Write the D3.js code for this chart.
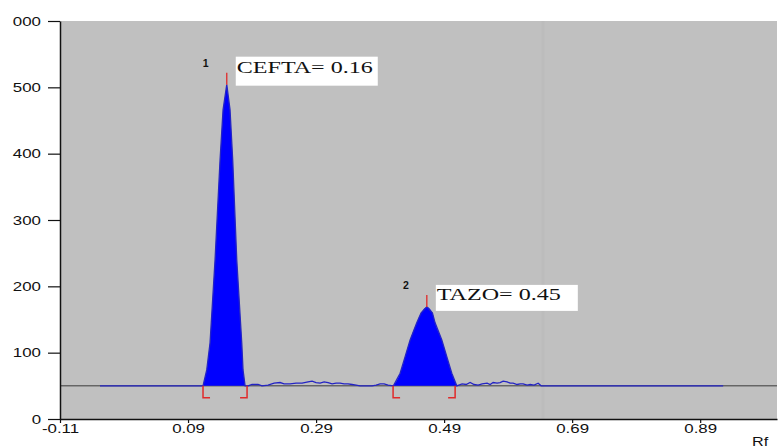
<!DOCTYPE html>
<html>
<head>
<meta charset="utf-8">
<script src="https://cdn.jsdelivr.net/npm/d3@7"></script>
<style>
  body { margin: 0; background: #fff; }
  svg { display: block; }
</style>
</head>
<body>
<svg id="chart"></svg>
<script>
// Densitogram data (Rf vs. AU)
const xTicks = [-0.11, 0.09, 0.29, 0.49, 0.69, 0.89];
const yTicks = [0, 100, 200, 300, 400, 500, 600];
const yTickLabels = ["0", "100", "200", "300", "400", "500", "000"];

const baselineAu = 50;
const traceStartRf = -0.0475;
const traceEndRf = 0.9259;

const peak1Rf = [0.1134, 0.1192, 0.1244, 0.1322, 0.1400, 0.1447, 0.1505, 0.1556, 0.1598, 0.1661, 0.1739, 0.1759, 0.1791];
const peak1Au = [50, 74, 115, 240, 390, 466, 504, 466, 390, 240, 115, 74, 50];

const peak2Rf = [0.4108, 0.4213, 0.4291, 0.4369, 0.4473, 0.4541, 0.4630, 0.4717, 0.4759, 0.4864, 0.4942, 0.5020, 0.5098];
const peak2Au = [50, 69, 94, 119, 145, 160, 169, 160, 145, 119, 94, 69, 50];

const noise1Rf = [0.1838, 0.19, 0.1994, 0.2056, 0.215, 0.2244, 0.2338, 0.24, 0.2494, 0.2588, 0.2681, 0.2775, 0.2838, 0.29, 0.2963, 0.3025, 0.3088, 0.315, 0.3213, 0.3275, 0.3338, 0.34, 0.3463, 0.3525, 0.3588, 0.3681, 0.3775, 0.3838, 0.39, 0.3963, 0.4025];
const noise1Au = [50, 52, 52, 50, 51, 54, 55, 53, 53, 54, 54, 56, 57, 55, 54, 56, 55, 53, 54, 54, 53, 53, 52, 51, 50, 50, 50, 51, 53, 53, 51];

const noise2Rf = [0.5181, 0.5244, 0.5306, 0.5369, 0.5431, 0.5494, 0.5572, 0.5619, 0.5666, 0.5728, 0.5775, 0.5822, 0.5884, 0.5931, 0.5978, 0.6041, 0.6088, 0.6134, 0.6197, 0.6244, 0.6306, 0.6369, 0.6416];
const noise2Au = [53, 52, 55, 52, 51, 53, 54, 52, 55, 54, 55, 57, 56, 54, 54, 52, 53, 53, 51, 52, 51, 54, 50];

const peakNames = ["CEFTA= 0.16", "TAZO= 0.45"];
const peakNumbers = ["1", "2"];
const peakApexRf = [0.1505, 0.4630];
const peakApexAu = [504, 169];
const peakStartRf = [0.1134, 0.4103];
const peakEndRf = [0.1822, 0.5072];

const width = 779, height = 448;
const margin = { top: 21, right: 2, bottom: 29, left: 60 };

const svg = d3.select("#chart").attr("width", width).attr("height", height);

const x = d3.scaleLinear().domain([-0.11, 1.01]).range([margin.left, width - margin.right]);
const y = d3.scaleLinear().domain([0, 600]).range([height - margin.bottom, margin.top]);

const zip = (a, b) => a.map((v, i) => [v, b[i]]);
const peak1 = zip(peak1Rf, peak1Au);
const peak2 = zip(peak2Rf, peak2Au);
const trace = [[traceStartRf, baselineAu]]
    .concat(peak1, zip(noise1Rf, noise1Au), peak2, zip(noise2Rf, noise2Au))
    .concat([[traceEndRf, baselineAu]]);

// Plot background
svg.append("rect")
    .attr("x", x(-0.11)).attr("y", y(600))
    .attr("width", x(1.01) - x(-0.11)).attr("height", y(0) - y(600))
    .attr("fill", "#c0c0c0");

// faint scan seam
svg.append("line")
    .attr("x1", x(0.6445)).attr("x2", x(0.6445))
    .attr("y1", y(600)).attr("y2", y(0))
    .attr("stroke", "#bcbcbc").attr("stroke-width", 3);

// Baseline
svg.append("line")
    .attr("x1", x(-0.11)).attr("x2", x(1.01))
    .attr("y1", y(baselineAu)).attr("y2", y(baselineAu))
    .attr("stroke", "#3a3a3a").attr("stroke-width", 1);

// Filled peaks
const area = d3.area()
    .x(d => x(d[0]))
    .y0(y(baselineAu))
    .y1(d => y(d[1]));

svg.selectAll(".peak")
    .data([peak1, peak2])
    .enter()
    .append("path")
    .attr("class", "peak")
    .attr("d", (d, i) => area.curve(i === 0 ? d3.curveLinear : d3.curveMonotoneX)(d))
    .attr("fill", "#0000ff");

// Trace line
const line = d3.line()
    .x(d => x(d[0]))
    .y(d => y(d[1]))
    .curve(d3.curveLinear);

svg.append("path")
    .datum(trace)
    .attr("d", line)
    .attr("fill", "none")
    .attr("stroke", "#2424c4")
    .attr("stroke-width", 1.3);

// Red apex ticks and integration brackets
const red = "#e02a2a";
peakApexRf.forEach((rf, i) => {
    svg.append("line")
        .attr("x1", x(rf)).attr("x2", x(rf))
        .attr("y1", y(peakApexAu[i])).attr("y2", y(peakApexAu[i]) - 12)
        .attr("stroke", red).attr("stroke-width", 1.3);

    const by = y(baselineAu);
    const xs = x(peakStartRf[i]), xe = x(peakEndRf[i]);
    svg.append("path")
        .attr("d", `M${xs},${by}V${by + 12}H${xs + 7}`)
        .attr("fill", "none").attr("stroke", red).attr("stroke-width", 1.5);
    svg.append("path")
        .attr("d", `M${xe},${by}V${by + 12}H${xe - 7}`)
        .attr("fill", "none").attr("stroke", red).attr("stroke-width", 1.5);
});

// Peak labels
const boxDy = [-28, -22];
const boxH = [29, 26];
const textLen = [136, 124];
const textBase = [-12, -7];
peakNames.forEach((name, i) => {
    const ax = x(peakApexRf[i]), ay = y(peakApexAu[i]);
    svg.append("rect")
        .attr("x", ax + 9).attr("y", ay + boxDy[i])
        .attr("width", 142).attr("height", boxH[i])
        .attr("fill", "#fff");
    svg.append("text")
        .attr("x", ax + 10).attr("y", ay + textBase[i])
        .attr("textLength", textLen[i])
        .attr("lengthAdjust", "spacingAndGlyphs")
        .style("font-family", "'Liberation Serif', 'Times New Roman', serif")
        .style("font-size", "17px")
        .attr("fill", "#111")
        .text(name);
    svg.append("text")
        .attr("x", ax - 21).attr("y", ay - 18)
        .attr("text-anchor", "middle")
        .style("font-family", "'Liberation Sans', Arial, sans-serif")
        .style("font-size", "10.5px")
        .style("font-weight", "bold")
        .attr("fill", "#111")
        .text(peakNumbers[i]);
});

// Axes
const stretch = "scale(1.35,1)";

const yAxis = svg.append("g")
    .attr("transform", `translate(${margin.left},0)`)
    .call(d3.axisLeft(y).tickValues(yTicks).tickSize(12).tickSizeOuter(0)
        .tickFormat((d, i) => yTickLabels[i]));
yAxis.selectAll("text")
    .attr("x", -19 / 1.35)
    .attr("transform", stretch)
    .style("font-family", "'Liberation Sans', Arial, sans-serif")
    .style("font-size", "12.5px")
    .attr("fill", "#111");

const xAxis = svg.append("g")
    .attr("transform", `translate(0,${y(0)})`)
    .call(d3.axisBottom(x).tickValues(xTicks).tickSize(4).tickSizeOuter(0)
        .tickFormat(d => d.toFixed(2)));
xAxis.selectAll("text")
    .attr("y", 14).attr("dy", 0)
    .attr("transform", stretch)
    .style("font-family", "'Liberation Sans', Arial, sans-serif")
    .style("font-size", "12.5px")
    .attr("fill", "#111");

[yAxis, xAxis].forEach(g => {
    g.select(".domain").attr("stroke", "#111").attr("stroke-width", 1.5);
    g.selectAll(".tick line").attr("stroke", "#111").attr("stroke-width", 1.2);
});

svg.append("text")
    .attr("transform", `translate(752,446) ${stretch}`)
    .style("font-family", "'Liberation Sans', Arial, sans-serif")
    .style("font-size", "12px")
    .attr("fill", "#111")
    .text("Rf");
</script>
</body>
</html>
